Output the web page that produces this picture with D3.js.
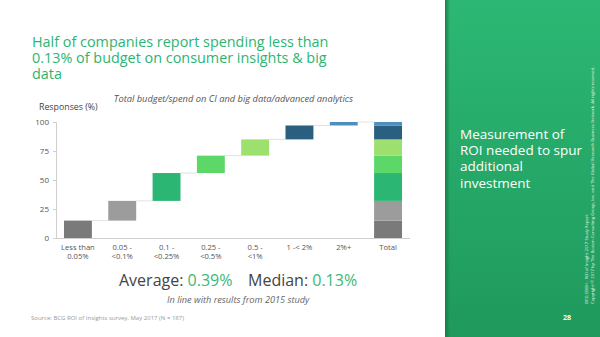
<!DOCTYPE html>
<html>
<head>
<meta charset="utf-8">
<script src="https://cdn.jsdelivr.net/npm/d3@7/dist/d3.min.js"></script>
<style>
  html, body { margin: 0; padding: 0; background: #fff; }
  svg { display: block; font-family: "Open Sans", "Noto Sans", sans-serif; }
</style>
</head>
<body>
<svg id="chart" width="600" height="337"></svg>
<script>
// Spend buckets (share of total budget) and share of responses in each
const categories = ["Less than 0.05%", "0.05 - <0.1%", "0.1 - <0.25%", "0.25 - <0.5%", "0.5 - <1%", "1 -< 2%", "2%+"];
const categoryLines = [["Less than", "0.05%"], ["0.05 -", "<0.1%"], ["0.1 -", "<0.25%"], ["0.25 -", "<0.5%"], ["0.5 -", "<1%"], ["1 -< 2%"], ["2%+"], ["Total"]];
const responses = [15, 17, 24, 15, 14, 12, 3];
const totalLabel = "Total";
const yTicks = [0, 25, 50, 75, 100];
const bucketColors = ["#7a7a7a", "#9c9c9c", "#2bb673", "#5dd868", "#9ee06f", "#2a5f80", "#4f8fbd"];

const svg = d3.select("#chart");

// Right-hand green panel
const defs = svg.append("defs");
const grad = defs.append("linearGradient").attr("id", "panelGrad")
  .attr("x1", 0).attr("y1", 0).attr("x2", 0).attr("y2", 1);
grad.append("stop").attr("offset", "0%").attr("stop-color", "#2cb874");
grad.append("stop").attr("offset", "100%").attr("stop-color", "#1f995c");
const shadow = defs.append("linearGradient").attr("id", "panelEdge")
  .attr("x1", 0).attr("y1", 0).attr("x2", 1).attr("y2", 0);
shadow.append("stop").attr("offset", "0%").attr("stop-color", "#157a45").attr("stop-opacity", 0.9);
shadow.append("stop").attr("offset", "100%").attr("stop-color", "#157a45").attr("stop-opacity", 0);

svg.append("rect").attr("x", 445).attr("y", 0).attr("width", 155).attr("height", 337).attr("fill", "url(#panelGrad)");
svg.append("rect").attr("x", 445).attr("y", 0).attr("width", 5).attr("height", 337).attr("fill", "url(#panelEdge)");

const panelText = svg.append("text").attr("x", 460).attr("y", 139)
  .attr("fill", "#fff").attr("font-size", 13.5);
["Measurement of", "ROI needed to spur", "additional", "investment"].forEach((t, i) => {
  panelText.append("tspan").attr("x", 460).attr("dy", i === 0 ? 0 : 16.2).text(t);
});

svg.append("text").attr("x", 567).attr("y", 320).attr("text-anchor", "middle")
  .attr("fill", "#fff").attr("font-size", 7).attr("font-weight", "bold").text("28");

svg.append("text").attr("transform", "translate(588,304) rotate(-90)")
  .attr("fill", "#e6f5ec").attr("font-size", 4.3).text("BCG EBBH - ROI of Insight 2017 Study Report");
svg.append("text").attr("transform", "translate(594,304) rotate(-90)")
  .attr("fill", "#e6f5ec").attr("font-size", 4.3)
  .text("Copyright © 2017 by The Boston Consulting Group, Inc. and The Global Research Business Network. All rights reserved.");

// Title and subtitle
const title = svg.append("text").attr("x", 32).attr("y", 46.5).attr("fill", "#2db472").attr("font-size", 14.4);
["Half of companies report spending less than", "0.13% of budget on consumer insights & big", "data"].forEach((t, i) => {
  title.append("tspan").attr("x", 32).attr("dy", i === 0 ? 0 : 16).text(t);
});
svg.append("text").attr("x", 353).attr("y", 101.5).attr("text-anchor", "end")
  .attr("fill", "#555").attr("font-size", 9.3).attr("font-style", "italic")
  .text("Total budget/spend on CI and big data/advanced analytics");

// Scales
const x = d3.scaleBand().domain(categories.concat([totalLabel])).range([56, 410]).paddingInner(0.37).paddingOuter(0.18);
const y = d3.scaleLinear().domain([0, 100]).range([238, 122]);

svg.append("text").attr("x", 39).attr("y", 110).attr("fill", "#444").attr("font-size", 8.8).text("Responses (%)");

// Y axis
const yAxis = svg.append("g").attr("transform", "translate(56,0)")
  .call(d3.axisLeft(y).tickValues(yTicks).tickSize(3).tickPadding(4));
yAxis.select(".domain").attr("stroke", "#cfcfcf");
yAxis.selectAll(".tick line").attr("stroke", "#cfcfcf");
yAxis.selectAll(".tick text").attr("fill", "#555").attr("font-size", 8).attr("font-family", "Open Sans, sans-serif");

// X axis
const xAxis = svg.append("g").attr("transform", "translate(0,238)")
  .call(d3.axisBottom(x).tickSize(0).tickFormat(""));
xAxis.select(".domain").attr("stroke", "#cfcfcf").attr("d", "M56,0.5H410");
xAxis.selectAll(".tick").each(function(d, i) {
  const t = d3.select(this).append("text").attr("fill", "#555").attr("font-size", 7.6)
    .attr("text-anchor", "middle").attr("y", 11.5).attr("font-family", "Open Sans, sans-serif");
  categoryLines[i].forEach((line, j) => {
    t.append("tspan").attr("x", 0).attr("dy", j === 0 ? 0 : 9).text(line);
  });
});

// Waterfall pieces
let running = 0;
const steps = responses.map((v, i) => {
  const s = { cat: categories[i], start: running, end: running + v, color: bucketColors[i] };
  running += v;
  return s;
});

// Connectors between consecutive bars
const allCats = categories.concat([totalLabel]);
svg.append("g").selectAll("line").data(steps).join("line")
  .attr("x1", (d, i) => x(allCats[i]) + x.bandwidth())
  .attr("x2", (d, i) => x(allCats[i + 1]))
  .attr("y1", d => y(d.end)).attr("y2", d => y(d.end))
  .attr("stroke", "#e2e2e2").attr("stroke-width", 1);

svg.append("g").selectAll("rect").data(steps).join("rect")
  .attr("x", d => x(d.cat)).attr("width", x.bandwidth())
  .attr("y", d => y(d.end)).attr("height", d => y(d.start) - y(d.end))
  .attr("fill", d => d.color);

// Total column stacked from the same pieces
svg.append("g").selectAll("rect").data(steps).join("rect")
  .attr("x", x(totalLabel)).attr("width", x.bandwidth())
  .attr("y", d => y(d.end)).attr("height", d => y(d.start) - y(d.end))
  .attr("fill", d => d.color);

// Summary statistics
const stats = svg.append("text").attr("x", 119).attr("y", 286).attr("font-size", 16);
stats.append("tspan").attr("fill", "#444").text("Average: ");
stats.append("tspan").attr("fill", "#3cb878").text("0.39%");
const med = svg.append("text").attr("x", 248).attr("y", 286).attr("font-size", 16);
med.append("tspan").attr("fill", "#444").text("Median: ");
med.append("tspan").attr("fill", "#3cb878").text("0.13%");

svg.append("text").attr("x", 167).attr("y", 302.5).attr("fill", "#666").attr("font-size", 9.2)
  .attr("font-style", "italic").text("In line with results from 2015 study");

svg.append("text").attr("x", 31).attr("y", 320).attr("fill", "#999").attr("font-size", 6)
  .text("Source: BCG ROI of Insights survey, May 2017 (N = 187)");
</script>
</body>
</html>
